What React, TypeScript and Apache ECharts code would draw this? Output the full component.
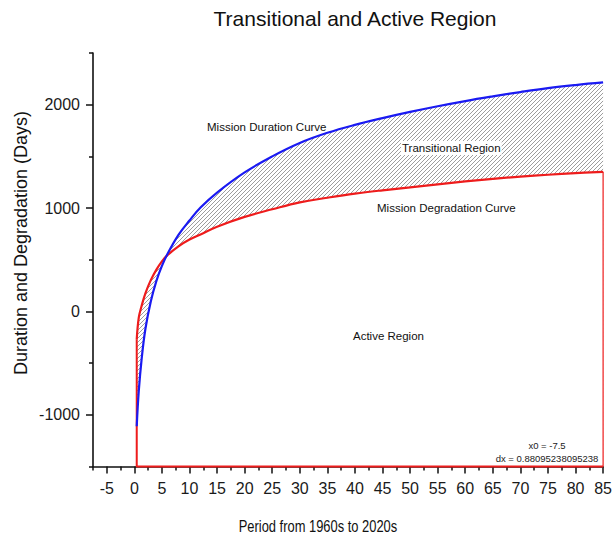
import React, { useEffect, useRef } from 'react';
import * as echarts from 'echarts';

// ---- data ----
const periods = [0.43, 0.8, 1.3, 2, 3, 4, 5, 6, 8, 10, 12, 15, 20, 25, 30, 35, 40, 45, 50, 55, 60, 65, 70, 75, 80, 85];
const missionDuration = [-1110, -770, -470, -170, 100, 295, 440, 555, 740, 880, 1005, 1150, 1345, 1500, 1630, 1728, 1805, 1870, 1930, 1985, 2035, 2080, 2122, 2160, 2190, 2215];
const missionDegradation = [-270, -60, 50, 175, 305, 405, 485, 545, 630, 695, 745, 820, 915, 988, 1055, 1100, 1140, 1172, 1200, 1230, 1258, 1283, 1304, 1322, 1338, 1351];

const xMajorTicks = [-5, 0, 5, 10, 15, 20, 25, 30, 35, 40, 45, 50, 55, 60, 65, 70, 75, 80, 85];
const xMinorTicks = [-7.5, -2.5, 2.5, 7.5, 12.5, 17.5, 22.5, 27.5, 32.5, 37.5, 42.5, 47.5, 52.5, 57.5, 62.5, 67.5, 72.5, 77.5, 82.5];
const yMajorTicks = [-1000, 0, 1000, 2000];
const yMinorTicks = [-1500, -500, 500, 1500, 2500];

const X_MIN = -7.5;
const X_MAX = 85;
const Y_MIN = -1500;
const Y_MAX = 2500;

const titleText = 'Transitional and Active Region';
const xTitle = 'Period from 1960s to 2020s';
const yTitle = 'Duration and Degradation (Days)';

const FONT = '"Liberation Sans", Arial, Helvetica, sans-serif';
const BLUE = '#1a1af2';
const RED = '#ee1c1c';

const hatchSvg =
  '<svg xmlns="http://www.w3.org/2000/svg" width="4" height="4">' +
  '<path d="M-1,1 L1,-1 M0,4 L4,0 M3,5 L5,3" stroke="#5a5a5a" stroke-width="0.6"/></svg>';
const hatch: any = {
  image: 'data:image/svg+xml;charset=utf-8,' + encodeURIComponent(hatchSvg),
  repeat: 'repeat',
  imageWidth: 4,
  imageHeight: 4,
};

function buildOption(): any {
  const last = periods.length - 1;
  const durationData = periods.map((x, i) => [x, missionDuration[i]]);
  const degradationData = periods.map((x, i) => [x, missionDegradation[i]]);
  const upperData = periods.map((x, i) => [x, Math.max(missionDuration[i], missionDegradation[i])]);
  const lowerData = periods.map((x, i) => [x, Math.min(missionDuration[i], missionDegradation[i])]);

  const axisColor = '#111';
  const smooth = 0.4;
  const plain = (v: number) => String(v);

  return {
    animation: false,
    backgroundColor: '#fff',
    grid: { left: 93, right: 9, top: 53, bottom: 70.5, containLabel: false },
    xAxis: [
      {
        type: 'value',
        min: X_MIN,
        max: X_MAX,
        position: 'bottom',
        splitLine: { show: false },
        axisLine: { show: true, onZero: false, lineStyle: { color: axisColor, width: 1.6 } },
        axisTick: { show: true, customValues: xMajorTicks, length: 7, lineStyle: { color: axisColor, width: 1.5 } },
        axisLabel: {
          show: true,
          customValues: xMajorTicks,
          formatter: plain,
          fontSize: 16,
          fontFamily: FONT,
          color: '#1a1a1a',
          margin: 14,
        },
      },
      {
        type: 'value',
        min: X_MIN,
        max: X_MAX,
        position: 'bottom',
        splitLine: { show: false },
        axisLine: { show: false, onZero: false },
        axisTick: { show: true, customValues: xMinorTicks, length: 4, lineStyle: { color: axisColor, width: 1.5 } },
        axisLabel: { show: false },
      },
    ],
    yAxis: [
      {
        type: 'value',
        min: Y_MIN,
        max: Y_MAX,
        position: 'left',
        splitLine: { show: false },
        axisLine: { show: true, onZero: false, lineStyle: { color: axisColor, width: 1.6 } },
        axisTick: { show: true, customValues: yMajorTicks, length: 7, lineStyle: { color: axisColor, width: 1.5 } },
        axisLabel: {
          show: true,
          customValues: yMajorTicks,
          formatter: plain,
          fontSize: 16,
          fontFamily: FONT,
          color: '#1a1a1a',
          margin: 13,
        },
      },
      {
        type: 'value',
        min: Y_MIN,
        max: Y_MAX,
        position: 'left',
        splitLine: { show: false },
        axisLine: { show: false, onZero: false },
        axisTick: { show: true, customValues: yMinorTicks, length: 4, lineStyle: { color: axisColor, width: 1.5 } },
        axisLabel: { show: false },
      },
    ],
    series: [
      {
        name: 'upperFill',
        type: 'line',
        data: upperData,
        symbol: 'none',
        smooth,
        lineStyle: { width: 0, opacity: 0 },
        areaStyle: { color: hatch, opacity: 1, origin: 'start' },
        silent: true,
        z: 1,
      },
      {
        name: 'lowerFill',
        type: 'line',
        data: lowerData,
        symbol: 'none',
        smooth,
        lineStyle: { width: 0, opacity: 0 },
        areaStyle: { color: '#ffffff', opacity: 1, origin: 'start' },
        silent: true,
        z: 2,
      },
      {
        name: 'activeEdge',
        type: 'line',
        data: [
          [periods[0], missionDegradation[0]],
          [periods[0], Y_MIN],
          [periods[last], Y_MIN],
        ],
        symbol: 'none',
        clip: false,
        lineStyle: { color: RED, width: 2 },
        silent: true,
        z: 3,
      },
      {
        name: 'activeRight',
        type: 'line',
        data: [
          [periods[last], Y_MIN],
          [periods[last], missionDegradation[last]],
        ],
        symbol: 'none',
        clip: false,
        lineStyle: { color: RED, width: 1.2 },
        silent: true,
        z: 3,
      },
      {
        name: 'Mission Degradation Curve',
        type: 'line',
        data: degradationData,
        symbol: 'none',
        smooth,
        lineStyle: { color: RED, width: 2.2 },
        silent: true,
        z: 4,
      },
      {
        name: 'Mission Duration Curve',
        type: 'line',
        data: durationData,
        symbol: 'none',
        smooth,
        lineStyle: { color: BLUE, width: 2.2 },
        silent: true,
        z: 5,
      },
    ],
    graphic: [
      {
        type: 'text',
        x: 355,
        y: 18,
        z: 10,
        style: { text: titleText, fontSize: 21, fontFamily: FONT, fill: '#111', textAlign: 'center', textVerticalAlign: 'middle' },
      },
      {
        type: 'text',
        x: 318,
        y: 526,
        z: 10,
        scaleX: 0.76,
        style: { text: xTitle, fontSize: 17, fontFamily: FONT, fill: '#111', textAlign: 'center', textVerticalAlign: 'middle' },
      },
      {
        type: 'text',
        x: 20.5,
        y: 243,
        z: 10,
        rotation: Math.PI / 2,
        style: { text: yTitle, fontSize: 18, fontFamily: FONT, fill: '#111', textAlign: 'center', textVerticalAlign: 'middle' },
      },
      {
        type: 'text',
        x: 207,
        y: 127,
        z: 10,
        style: { text: 'Mission Duration Curve', fontSize: 11.5, fontFamily: FONT, fill: '#111', textAlign: 'left', textVerticalAlign: 'middle' },
      },
      {
        type: 'text',
        x: 401,
        y: 148,
        z: 10,
        style: {
          text: 'Transitional Region',
          fontSize: 11.5,
          fontFamily: FONT,
          fill: '#111',
          textAlign: 'left',
          textVerticalAlign: 'middle',
          backgroundColor: '#fff',
          padding: [1, 1, 1, 1],
        },
      },
      {
        type: 'text',
        x: 377,
        y: 208,
        z: 10,
        style: { text: 'Mission Degradation Curve', fontSize: 11.5, fontFamily: FONT, fill: '#111', textAlign: 'left', textVerticalAlign: 'middle' },
      },
      {
        type: 'text',
        x: 353,
        y: 336,
        z: 10,
        style: { text: 'Active Region', fontSize: 11.5, fontFamily: FONT, fill: '#111', textAlign: 'left', textVerticalAlign: 'middle' },
      },
      {
        type: 'text',
        x: 547,
        y: 445,
        z: 10,
        style: { text: 'x0 = -7.5', fontSize: 9.5, fontFamily: FONT, fill: '#222', textAlign: 'center', textVerticalAlign: 'middle' },
      },
      {
        type: 'text',
        x: 547,
        y: 458,
        z: 10,
        style: { text: 'dx = 0.88095238095238', fontSize: 9.5, fontFamily: FONT, fill: '#222', textAlign: 'center', textVerticalAlign: 'middle' },
      },
    ],
  };
}

export default function App() {
  const ref = useRef<HTMLDivElement>(null);
  useEffect(() => {
    if (!ref.current) return;
    const chart = echarts.init(ref.current, null, { renderer: 'svg' });
    chart.setOption(buildOption());
    return () => {
      chart.dispose();
    };
  }, []);
  return (
    <div
      ref={ref}
      style={{ position: 'fixed', left: 0, top: 0, width: 615, height: 537, background: '#fff' }}
    />
  );
}
